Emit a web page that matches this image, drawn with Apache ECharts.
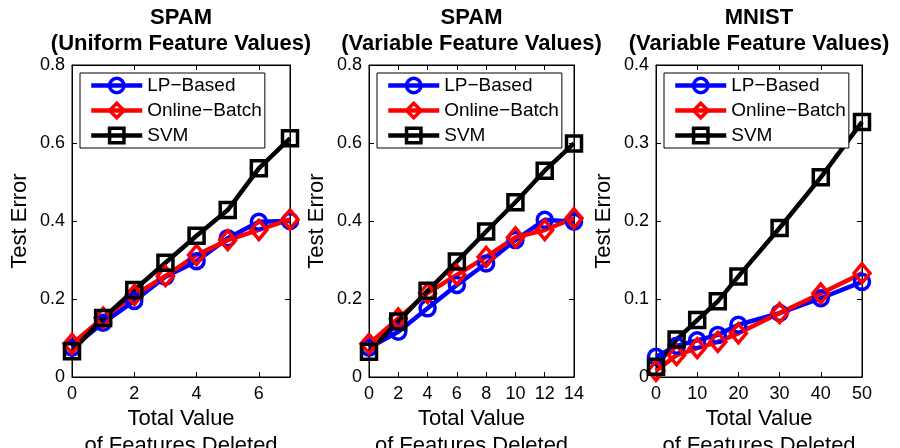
<!DOCTYPE html>
<html>
<head>
<meta charset="utf-8">
<script src="https://cdn.jsdelivr.net/npm/echarts@6/dist/echarts.min.js"></script>
<style>
  html, body { margin: 0; padding: 0; background: #fff; }
  #chart { width: 900px; height: 448px; }
</style>
</head>
<body>
<div id="chart"></div>
<script>
// series names
var seriesNames = ["LP\u2212Based", "Online\u2212Batch", "SVM"];

// SPAM, uniform feature values
var xSpamU = [0, 1, 2, 3, 4, 5, 6, 7];
var lpSpamU = [0.075, 0.139, 0.195, 0.257, 0.297, 0.356, 0.398, 0.400];
var obSpamU = [0.085, 0.152, 0.210, 0.259, 0.313, 0.351, 0.377, 0.404];
var svmSpamU = [0.066, 0.151, 0.223, 0.293, 0.362, 0.428, 0.535, 0.612];

// SPAM, variable feature values
var xSpamV = [0, 2, 4, 6, 8, 10, 12, 14];
var lpSpamV = [0.075, 0.116, 0.176, 0.236, 0.291, 0.351, 0.403, 0.398];
var obSpamV = [0.085, 0.150, 0.215, 0.262, 0.308, 0.358, 0.377, 0.407];
var svmSpamV = [0.065, 0.142, 0.221, 0.296, 0.373, 0.448, 0.529, 0.599];

// MNIST, variable feature values
var xMnist = [0, 5, 10, 15, 20, 30, 40, 50];
var lpMnist = [0.026, 0.040, 0.047, 0.054, 0.067, 0.082, 0.101, 0.122];
var obMnist = [0.008, 0.028, 0.037, 0.045, 0.056, 0.082, 0.107, 0.133];
var svmMnist = [0.013, 0.048, 0.073, 0.097, 0.129, 0.191, 0.256, 0.327];

var FONT = "Liberation Sans";

var option = {
  animation: false,
  backgroundColor: "#fff",
  title: [], grid: [], xAxis: [], yAxis: [], legend: [], series: []
};

function pairs(xs, ys) {
  var out = [];
  for (var i = 0; i < xs.length; i++) out.push([xs[i], ys[i]]);
  return out;
}

// one subplot: box, ticks all round, legend in the top-left corner
function addPanel(p) {
  var g = option.grid.length;
  option.grid.push({ left: p.left, top: 65, width: p.width, height: 312,
    outerBoundsMode: "none", containLabel: false,
    show: true, borderColor: "#000", borderWidth: 1, backgroundColor: "#fff" });

  option.title.push({
    text: p.title, left: p.left + p.width / 2, top: 5, padding: 0,
    textAlign: "center",
    textStyle: { fontFamily: FONT, fontSize: 22, fontWeight: "bold", lineHeight: 26, color: "#000" }
  });

  var tick = { show: true, inside: true, length: 5, lineStyle: { color: "#000", width: 1 } };
  var line = { show: true, onZero: false, lineStyle: { color: "#000", width: 1 } };

  // bottom / left axes with labels
  option.xAxis.push({
    type: "value", gridIndex: g, min: 0, max: p.xMax, interval: p.xStep,
    name: "Total Value\nof Features Deleted", nameLocation: "middle", nameGap: 28,
    nameMoveOverlap: false,
    nameTextStyle: { fontFamily: FONT, fontSize: 22, lineHeight: 27, color: "#000" },
    axisLine: line, axisTick: tick, splitLine: { show: false },
    axisLabel: { fontFamily: FONT, fontSize: 18, color: "#000", margin: 8, showMaxLabel: p.showMax }
  });
  option.yAxis.push({
    type: "value", gridIndex: g, min: 0, max: p.yMax, interval: p.yStep,
    name: "Test Error", nameLocation: "middle", nameGap: 41,
    nameMoveOverlap: false,
    nameTextStyle: { fontFamily: FONT, fontSize: 22, color: "#000" },
    axisLine: line, axisTick: tick, splitLine: { show: false },
    axisLabel: { fontFamily: FONT, fontSize: 18, color: "#000", margin: 7 }
  });
  // top / right axes, ticks only
  option.xAxis.push({
    type: "value", gridIndex: g, position: "top", min: 0, max: p.xMax, interval: p.xStep,
    axisLine: line, axisTick: tick, splitLine: { show: false }, axisLabel: { show: false }
  });
  option.yAxis.push({
    type: "value", gridIndex: g, position: "right", min: 0, max: p.yMax, interval: p.yStep,
    axisLine: line, axisTick: tick, splitLine: { show: false }, axisLabel: { show: false }
  });

  var xi = g * 2;
  var styles = [
    { color: "#0000ff", symbol: "circle", size: 15 },
    { color: "#ff0000", symbol: "diamond", size: [16, 19] },
    { color: "#000000", symbol: "rect", size: 15 }
  ];
  for (var s = 0; s < 3; s++) {
    option.series.push({
      name: seriesNames[s], type: "line", xAxisIndex: xi, yAxisIndex: xi,
      data: pairs(p.x, p.ys[s]),
      symbol: styles[s].symbol, symbolSize: styles[s].size, showAllSymbol: true,
      lineStyle: { color: styles[s].color, width: 4.5 },
      itemStyle: { color: "rgba(0,0,0,0)", borderColor: styles[s].color, borderWidth: 3.5 }
    });
  }

  option.legend.push({
    orient: "vertical", left: p.left + 8, top: 73,
    data: seriesNames, selectedMode: false,
    backgroundColor: "#fff", borderColor: "#000", borderWidth: 1,
    padding: [3, 3, 3, 9], itemWidth: 51, itemHeight: 18, itemGap: 6,
    lineStyle: { width: 4.5 },
    itemStyle: { borderWidth: 3.5 },
    textStyle: { fontFamily: FONT, fontSize: 19, lineHeight: 19, color: "#000" }
  });
}

addPanel({ left: 72, width: 218, title: "SPAM\n(Uniform Feature Values)",
  x: xSpamU, ys: [lpSpamU, obSpamU, svmSpamU], xMax: 7, xStep: 2, yMax: 0.8, yStep: 0.2, showMax: false });
addPanel({ left: 369, width: 205, title: "SPAM\n(Variable Feature Values)",
  x: xSpamV, ys: [lpSpamV, obSpamV, svmSpamV], xMax: 14, xStep: 2, yMax: 0.8, yStep: 0.2, showMax: true });
addPanel({ left: 656, width: 206, title: "MNIST\n(Variable Feature Values)",
  x: xMnist, ys: [lpMnist, obMnist, svmMnist], xMax: 50, xStep: 10, yMax: 0.4, yStep: 0.1, showMax: true });

var chart = echarts.init(document.getElementById("chart"), null, { renderer: "canvas" });
chart.setOption(option);
</script>
</body>
</html>
